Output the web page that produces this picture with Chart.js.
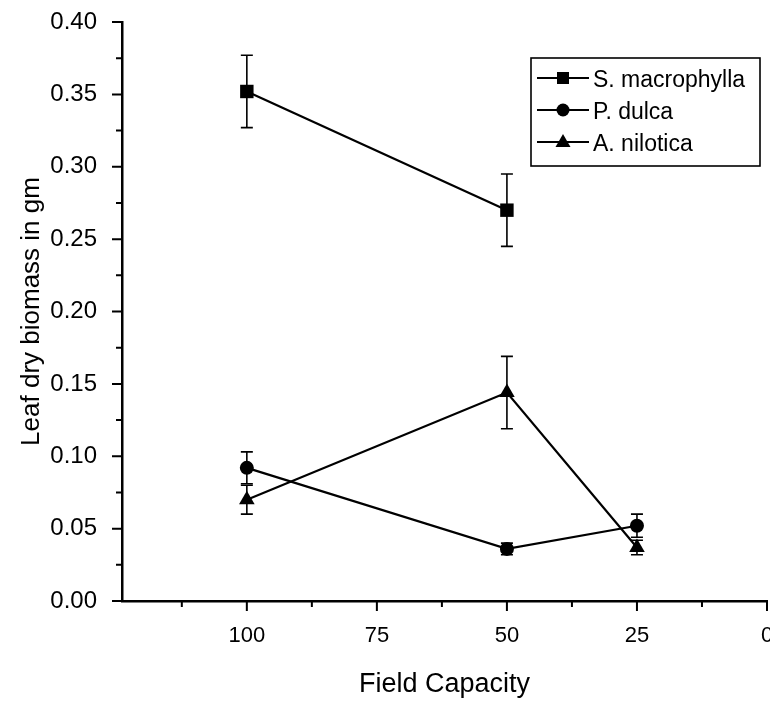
<!DOCTYPE html>
<html lang="en">
<head>
    <meta charset="UTF-8">
    <title>Leaf dry biomass vs field capacity</title>
    <script src="https://cdn.jsdelivr.net/npm/chart.js"></script>
    <style>
        html, body {
            margin: 0;
            padding: 0;
            background: #fff;
            overflow: hidden;
        }
        .wrap {
            position: relative;
            width: 790px;
            height: 704px;
        }
    </style>
</head>
<body>
    <div class="wrap">
        <canvas id="chart" width="790" height="704"></canvas>
    </div>

    <script>
        // data
        const speciesNames = ['S. macrophylla', 'P. dulca', 'A. nilotica'];
        const speciesMarkers = ['rect', 'circle', 'triangle'];

        const sMacroX = [100, 50];
        const sMacrophylla = [0.352, 0.270];
        const sMacrophyllaErr = [0.025, 0.025];

        const pDulcaX = [100, 50, 25];
        const pDulca = [0.092, 0.036, 0.052];
        const pDulcaErr = [0.011, 0.004, 0.008];

        const aNiloticaX = [100, 50, 25];
        const aNilotica = [0.070, 0.144, 0.037];
        const aNiloticaErr = [0.010, 0.025, 0.005];

        const xTickValues = [112.5, 100, 87.5, 75, 62.5, 50, 37.5, 25, 12.5, 0];
        const yTickValues = [0, 0.025, 0.05, 0.075, 0.1, 0.125, 0.15, 0.175, 0.2, 0.225, 0.25, 0.275, 0.3, 0.325, 0.35, 0.375, 0.4];

        const FONT = '"Liberation Sans", Arial, sans-serif';

        function toPoints(xs, ys) {
            return xs.map((x, i) => ({ x: x, y: ys[i] }));
        }

        function isMajorX(v) { return Math.round(v * 10) % 250 === 0; }
        function isMajorY(v) { return Math.round(v * 1000) % 50 === 0; }

        function makeDataset(i, xs, ys, errs) {
            return {
                label: speciesNames[i],
                data: toPoints(xs, ys),
                errors: errs,
                showLine: true,
                borderColor: '#000',
                backgroundColor: '#000',
                borderWidth: 2.2,
                pointStyle: speciesMarkers[i],
                pointRadius: i === 0 ? 9.5 : (i === 1 ? 7 : 9),
                pointHoverRadius: i === 0 ? 9.5 : 7,
                pointBorderWidth: 0
            };
        }

        function drawMarker(ctx, style, x, y) {
            ctx.beginPath();
            if (style === 'rect') {
                ctx.rect(x - 6, y - 6, 12, 12);
            } else if (style === 'circle') {
                ctx.arc(x, y, 6.5, 0, Math.PI * 2);
            } else {
                ctx.moveTo(x, y - 8);
                ctx.lineTo(x + 7.5, y + 5);
                ctx.lineTo(x - 7.5, y + 5);
                ctx.closePath();
            }
            ctx.fill();
        }

        // error bars with caps
        const errorBars = {
            id: 'errorBars',
            afterDatasetsDraw(chart) {
                const ctx = chart.ctx;
                const xs = chart.scales.x, ys = chart.scales.y;
                ctx.save();
                ctx.strokeStyle = '#000';
                ctx.lineWidth = 1.6;
                chart.data.datasets.forEach(ds => {
                    ds.data.forEach((p, j) => {
                        const e = ds.errors[j];
                        const px = xs.getPixelForValue(p.x);
                        const top = ys.getPixelForValue(p.y + e);
                        const bot = ys.getPixelForValue(p.y - e);
                        ctx.beginPath();
                        ctx.moveTo(px, top);
                        ctx.lineTo(px, bot);
                        ctx.moveTo(px - 6, top);
                        ctx.lineTo(px + 6, top);
                        ctx.moveTo(px - 6, bot);
                        ctx.lineTo(px + 6, bot);
                        ctx.stroke();
                    });
                });
                ctx.restore();
            }
        };

        // outward tick marks, major and minor
        const tickMarks = {
            id: 'tickMarks',
            afterDraw(chart) {
                const ctx = chart.ctx;
                const area = chart.chartArea;
                const xs = chart.scales.x, ys = chart.scales.y;
                ctx.save();
                ctx.strokeStyle = '#000';
                ctx.lineWidth = 2;
                ctx.beginPath();
                yTickValues.forEach(v => {
                    const py = ys.getPixelForValue(v);
                    const len = isMajorY(v) ? 10 : 6;
                    ctx.moveTo(area.left - len, py);
                    ctx.lineTo(area.left, py);
                });
                xTickValues.forEach(v => {
                    const px = xs.getPixelForValue(v);
                    const len = isMajorX(v) ? 10 : 6;
                    ctx.moveTo(px, area.bottom);
                    ctx.lineTo(px, area.bottom + len);
                });
                ctx.stroke();
                ctx.restore();
            }
        };

        // boxed legend: line - marker - line, then the name
        const boxLegend = {
            id: 'boxLegend',
            afterDraw(chart) {
                const ctx = chart.ctx;
                const left = 531, top = 58, w = 229, h = 108;
                ctx.save();
                ctx.strokeStyle = '#000';
                ctx.lineWidth = 1.6;
                ctx.strokeRect(left, top, w, h);
                ctx.fillStyle = '#000';
                ctx.font = '23px ' + FONT;
                ctx.textBaseline = 'middle';
                speciesNames.forEach((name, i) => {
                    const y = top + 20 + i * 32;
                    ctx.lineWidth = 2;
                    ctx.beginPath();
                    ctx.moveTo(left + 6, y);
                    ctx.lineTo(left + 58, y);
                    ctx.stroke();
                    drawMarker(ctx, speciesMarkers[i], left + 32, y);
                    ctx.fillText(name, left + 62, y + 3);
                });
                ctx.restore();
            }
        };

        const chart = new Chart(document.getElementById('chart'), {
            type: 'scatter',
            data: {
                datasets: [
                    makeDataset(0, sMacroX, sMacrophylla, sMacrophyllaErr),
                    makeDataset(1, pDulcaX, pDulca, pDulcaErr),
                    makeDataset(2, aNiloticaX, aNilotica, aNiloticaErr)
                ]
            },
            options: {
                responsive: false,
                animation: false,
                devicePixelRatio: 1,
                layout: {
                    autoPadding: false,
                    padding: { top: 22, right: 23, left: 0, bottom: 0 }
                },
                plugins: {
                    legend: { display: false },
                    tooltip: { enabled: false }
                },
                scales: {
                    x: {
                        type: 'linear',
                        reverse: true,
                        min: 0,
                        max: 124,
                        afterBuildTicks: s => { s.ticks = xTickValues.map(v => ({ value: v })); },
                        afterFit: s => {
                            s.height = 103;
                            s.paddingLeft = 0;
                            s.paddingRight = 0;
                        },
                        grid: { display: true, drawOnChartArea: false, drawTicks: false },
                        border: { display: true, color: '#000', width: 2.5 },
                        ticks: {
                            padding: 22,
                            maxRotation: 0,
                            autoSkip: false,
                            color: '#000',
                            font: { family: FONT, size: 22 },
                            callback: v => isMajorX(v) ? String(v) : ''
                        },
                        title: {
                            display: true,
                            text: 'Field Capacity',
                            color: '#000',
                            font: { family: FONT, size: 27 },
                            padding: { top: 4, bottom: 3 }
                        }
                    },
                    y: {
                        min: 0,
                        max: 0.4,
                        afterBuildTicks: s => { s.ticks = yTickValues.map(v => ({ value: v })); },
                        afterFit: s => {
                            s.width = 122;
                            s.paddingTop = 0;
                            s.paddingBottom = 0;
                        },
                        grid: { display: true, drawOnChartArea: false, drawTicks: false },
                        border: { display: true, color: '#000', width: 2.5 },
                        ticks: {
                            padding: 25,
                            autoSkip: false,
                            color: '#000',
                            font: { family: FONT, size: 24 },
                            callback: v => isMajorY(v) ? v.toFixed(2) : ''
                        },
                        title: {
                            display: true,
                            text: 'Leaf dry biomass in gm',
                            color: '#000',
                            font: { family: FONT, size: 26 },
                            padding: { top: 16, bottom: 0 }
                        }
                    }
                }
            },
            plugins: [errorBars, tickMarks, boxLegend]
        });
    </script>
</body>
</html>
